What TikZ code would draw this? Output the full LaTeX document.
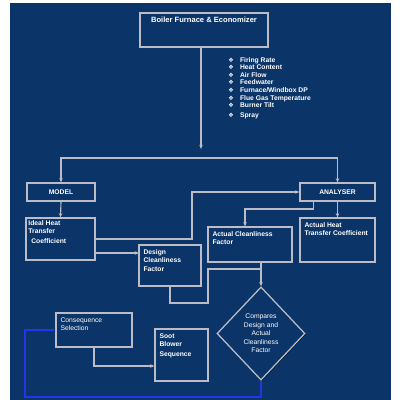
\documentclass[tikz,border=0pt]{standalone}
\usepackage{fontspec}
\setmainfont{Liberation Sans}
\newfontfamily\symfont{DejaVu Sans}
\usetikzlibrary{shapes.geometric,fit,arrows.meta,shadows}
\definecolor{navy}{RGB}{11,52,104}
\definecolor{wire}{RGB}{188,188,198}
\definecolor{loopblue}{RGB}{40,50,230}
\newcommand{\bul}{{\symfont\fontsize{4.3}{4}\selectfont ❖}\hspace{4.5pt}}
\tikzset{
  box/.style={draw=wire, fill=navy, line width=0.9pt, inner sep=0pt, drop shadow={shadow xshift=0.6pt, shadow yshift=-0.6pt, fill=black, opacity=0.8}},
  txt/.style={text=white, font=\fontsize{4.8}{6}\selectfont\bfseries, align=left, inner sep=2.5pt},
  plain/.style={text=white, font=\fontsize{4.8}{6}\selectfont, align=left, inner sep=2.5pt},
  arr/.style={draw=wire, line width=0.8pt, -{Stealth[length=3pt,width=2.5pt]}},
  wireline/.style={draw=wire, line width=0.8pt},
  fb/.style={draw=loopblue, line width=0.9pt, -{Stealth[length=3pt,width=2.5pt]}}
}

\begin{document}
\begin{tikzpicture}[x=0.025cm,y=-0.025cm]
\useasboundingbox (0,0) rectangle (400,400);
\fill[navy] (10,3) rectangle (391,400);

\node[box, fit={(140,13) (268,47)}, label={[txt, font=\fontsize{5.4}{6}\selectfont\bfseries, anchor=north, inner sep=3pt]north:Boiler Furnace \& Economizer}] (boiler) {};
\node[txt, anchor=north west, inner sep=0pt, font=\fontsize{4.8}{5.4}\selectfont\bfseries] (inputs) at (228,57) {\bul Firing Rate\\ \bul Heat Content\\ \bul Air Flow\\ \bul Feedwater\\ \bul Furnace/Windbox DP\\ \bul Flue Gas Temperature\\ \bul Burner Tilt\\[1.5pt] \bul Spray};

\node[box, fit={(27,183) (95,201)}] (model) {};
\node[txt] at (model) {MODEL};
\node[box, fit={(300,183) (375,201)}] (analyser) {};
\node[txt] at (analyser) {ANALYSER};

\node[box, fit={(26,218) (95,260)}, label={[txt, anchor=north west, inner sep=2pt]north west:Ideal Heat\\Transfer\\[1pt]\hspace{2pt}Coefficient}] (ideal) {};
\node[box, fit={(139,245) (201,286)}, label={[txt, anchor=north west, inner sep=3.5pt]north west:Design\\Cleanliness\\Factor}] (design) {};
\node[box, fit={(208,227) (292,262)}, label={[txt, anchor=north west, inner sep=3.5pt]north west:Actual Cleanliness\\Factor}] (actual) {};
\node[box, fit={(300,218) (375,262)}, label={[txt, anchor=north west, inner sep=3.5pt]north west:Actual Heat\\Transfer Coefficient}] (aheat) {};
\node[box, fit={(56,313) (132,347)}, label={[plain, anchor=north west, inner sep=3.5pt]north west:Consequence\\Selection}] (conseq) {};
\node[box, fit={(155,329) (208,381)}, label={[txt, anchor=north west, inner sep=3.5pt]north west:Soot\\Blower\\[1pt]Sequence}] (soot) {};
\node[diamond, draw=wire, fill=navy, line width=0.9pt, drop shadow={shadow xshift=0.6pt, shadow yshift=-0.6pt, fill=black, opacity=0.8}, minimum width=2.2cm, minimum height=2.33cm, inner sep=0pt, text=white, font=\fontsize{4.8}{6.1}\selectfont, align=center] (comp) at (261,333.5) {Compares\\Design and\\Actual\\Cleanliness\\Factor};

\coordinate (split) at (201,149);
\coordinate (bus) at (201,158);
\coordinate (up) at (192,192);
\coordinate (din) at (139,253);
\coordinate (ajog) at (245,209);
\coordinate (dj1) at (208,303);
\coordinate (dj2) at (208,269);
\coordinate (loop) at (25,397);
\coordinate (cj) at (94,366);

\draw[arr] (boiler.south -| split) -- (split);
\draw[arr] (bus) -| (model.north);
\draw[arr] (bus) -| (analyser.north);
\draw[arr] (model.south) -- (ideal.north);
\draw[arr] (ideal.east) -| (up) -- (analyser.west);
\draw[arr] (din -| ideal.east) -- (din);
\draw[arr] ([xshift=-0.59cm]analyser.south) |- (ajog) -- (ajog |- actual.north);
\draw[arr] (analyser.south) -- (aheat.north);
\draw[arr] (comp.north |- actual.south) -- (comp.north);
\draw[wireline] (design.south) |- (dj1) -- (dj2) -- (dj2 -| comp.north);
\draw[fb] (comp.south) |- (loop) |- (conseq.west);
\draw[arr] (conseq.south) |- (soot.west |- cj);
\end{tikzpicture}
\end{document}
